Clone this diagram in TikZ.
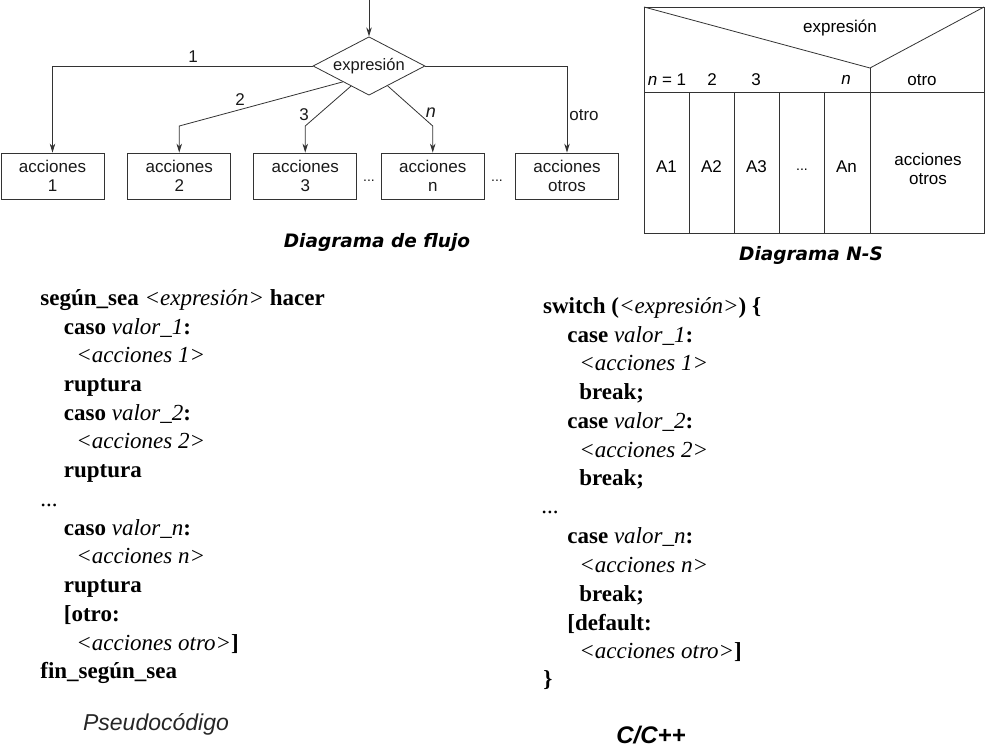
\documentclass[tikz,border=0pt]{standalone}
\usepackage{fontspec}
\setmainfont{Liberation Serif}
\setsansfont{Liberation Sans}
\newfontfamily\capfont{DejaVu Sans}
\usetikzlibrary{shapes.geometric,arrows.meta,calc}
\begin{document}
\begin{tikzpicture}[x=1pt,y=-1pt,line width=0.8pt,
  ln/.style={draw=black!80},
  arr/.style={ln,-{Stealth[length=9pt,width=5.5pt]}},
  box/.style={draw=black!80,minimum width=103pt,minimum height=46pt,inner sep=0pt,align=center,
    font=\sffamily\fontsize{17}{18.5}\selectfont,text=black!90},
  lab/.style={inner sep=0pt,font=\sffamily\fontsize{17}{18}\selectfont,text=black!90},
  nst/.style={inner sep=0pt,align=center,font=\sffamily\fontsize{17}{19}\selectfont},
  code/.style={anchor=base west,inner sep=0pt,font=\fontsize{23}{23}\selectfont},
  captxt/.style={inner sep=0pt,font=\capfont\bfseries\itshape\fontsize{18.5}{18.5}\selectfont}]
\useasboundingbox (0,0) rectangle (986,747);

% ---------- flowchart ----------
\node[diamond,shape aspect=1.67,draw=black!80,minimum width=112pt,inner sep=0pt,
  font=\sffamily\fontsize{16.5}{17}\selectfont,text=black!90] (d) at (369,66) {expresión};
\coordinate (top) at (369,0);
\draw[arr] (top) -- (d.north);

\node[box] (b1) at (52.5,176) {acciones\\1};
\node[box] (b2) at (179.25,176) {acciones\\2};
\node[box] (b3) at (305.25,176) {acciones\\3};
\node[box] (bn) at (432.75,176) {acciones\\n};
\node[box] (bo) at (567,176) {acciones\\otros};

\coordinate (e2) at ($(d.west)!0.536!(d.south)$);
\coordinate (e3) at ($(d.west)!0.68!(d.south)$);
\coordinate (en) at ($(d.south)!0.33!(d.east)$);
\coordinate (k2) at (179.25,126);
\coordinate (k3) at (305.25,126);
\coordinate (kn) at (432.75,126);

\draw[arr] (d.west) -| (b1.north);
\draw[arr] (e2) -- (k2) -- (b2.north);
\draw[arr] (e3) -- (k3) -- (b3.north);
\draw[arr] (en) -- (kn) -- (bn.north);
\draw[arr] (d.east) -| (bo.north);

\node[lab] (l1) at (193,57) {1};
\node[lab] (l2) at (240,100) {2};
\node[lab] (l3) at (304,115) {3};
\node[lab,font=\sffamily\itshape\fontsize{18}{18}\selectfont] (ln) at (431,113) {n};
\node[lab] (lo) at (584,115) {otro};

\node[lab,anchor=base,font=\sffamily\fontsize{14}{14}\selectfont] (dots1) at (369,181) {...};
\node[lab,anchor=base,font=\sffamily\fontsize{14}{14}\selectfont] (dots2) at (497,181) {...};

\node[captxt] (cap1) at (377,242) {Diagrama de flujo};

% ---------- N-S diagram ----------
\draw[ln] (644,7) rectangle (984,233);
\draw[ln] (644,7) -- (870,68) -- (984,7);
\draw[ln] (644,92) -- (984,92);
\draw[ln] (870,68) -- (870,233);
\foreach \xx in {689,734,779,824} \draw[ln] (\xx,92) -- (\xx,233);

\node[nst] (nsexp) at (840,28) {expresión};
\node[nst] (ns1) at (667,80) {\textit{n} = 1};
\node[nst] (ns2) at (712,80) {2};
\node[nst] (ns3) at (756,80) {3};
\node[nst] (nsn) at (846,80) {\textit{n}};
\node[nst] (nso) at (922,80) {otro};
\node[nst] (a1) at (666.5,167) {A1};
\node[nst] (a2) at (711.5,167) {A2};
\node[nst] (a3) at (756.5,167) {A3};
\node[nst,anchor=base,font=\sffamily\fontsize{14}{14}\selectfont] (adots) at (802,170) {...};
\node[nst] (an) at (846.5,167) {An};
\node[nst] (ao) at (928,168.5) {acciones\\otros};

\node[captxt] (cap2) at (811,255) {Diagrama N-S};

% ---------- pseudocode ----------
\node[code] (p1) at (40,305) {\textbf{según\_sea} \textit{<expresión>} \textbf{hacer}};
\node[code] (p2) at (63.5,334) {\textbf{caso} \textit{valor\_1}\textbf{:}};
\node[code] (p3) at (76,362) {\textit{<acciones 1>}};
\node[code] (p4) at (63.5,391) {\textbf{ruptura}};
\node[code] (p5) at (63.5,420) {\textbf{caso} \textit{valor\_2}\textbf{:}};
\node[code] (p6) at (76,448) {\textit{<acciones 2>}};
\node[code] (p7) at (63.5,477) {\textbf{ruptura}};
\node[code] (p8) at (40,506) {...};
\node[code] (p9) at (63.5,535) {\textbf{caso} \textit{valor\_n}\textbf{:}};
\node[code] (p10) at (76,563) {\textit{<acciones n>}};
\node[code] (p11) at (63.5,592) {\textbf{ruptura}};
\node[code] (p12) at (63.5,621) {\textbf{[otro:}};
\node[code] (p13) at (76,650) {\textit{<acciones otro>}\textbf{]}};
\node[code] (p14) at (40,678) {\textbf{fin\_según\_sea}};

\node[inner sep=0pt,font=\sffamily\itshape\fontsize{23}{23}\selectfont,text=black!85] (cap3) at (156,724) {Pseudocódigo};

% ---------- C/C++ ----------
\node[code] (c1) at (542.7,313) {\textbf{switch (}\textit{<expresión>}\textbf{) \{}};
\node[code] (c2) at (567,342) {\textbf{case} \textit{valor\_1}\textbf{:}};
\node[code] (c3) at (579,370) {\textit{<acciones 1>}};
\node[code] (c4) at (579,399) {\textbf{break;}};
\node[code] (c5) at (567,428) {\textbf{case} \textit{valor\_2}\textbf{:}};
\node[code] (c6) at (579,457) {\textit{<acciones 2>}};
\node[code] (c7) at (579,485) {\textbf{break;}};
\node[code] (c8) at (541,513) {...};
\node[code] (c9) at (567,543) {\textbf{case} \textit{valor\_n}\textbf{:}};
\node[code] (c10) at (579,572) {\textit{<acciones n>}};
\node[code] (c11) at (579,601) {\textbf{break;}};
\node[code] (c12) at (567,630) {\textbf{[default:}};
\node[code] (c13) at (579,658) {\textit{<acciones otro>}\textbf{]}};
\node[code] (c14) at (543,686) {\textbf{\}}};

\node[inner sep=0pt,font=\sffamily\bfseries\itshape\fontsize{24}{24}\selectfont] (cap4) at (651,735) {C/C++};
\end{tikzpicture}
\end{document}
